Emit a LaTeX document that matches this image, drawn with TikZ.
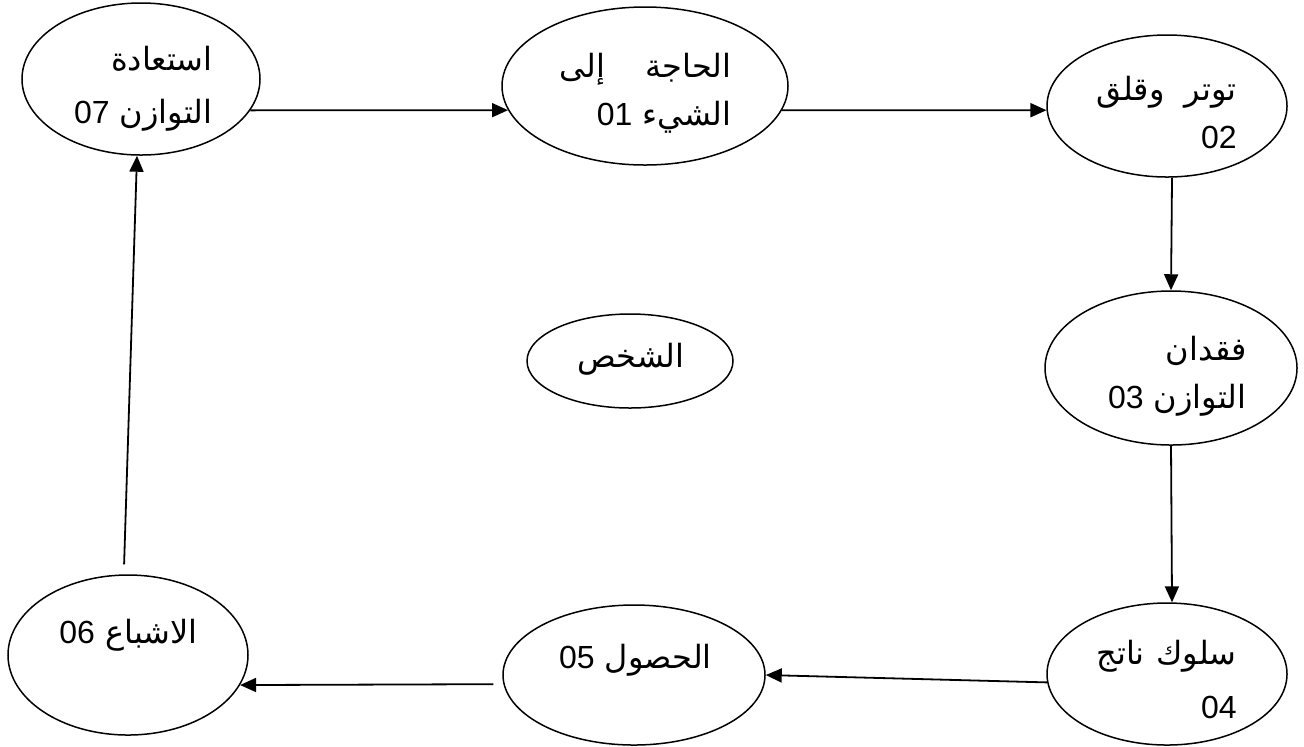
\documentclass[tikz,border=0pt]{standalone}
\usepackage{fontspec}
\TeXXeTstate=1
\newfontfamily\arabicfont[Script=Arabic]{DejaVu Sans}
\newfontfamily\numfont{Liberation Sans}
\usetikzlibrary{shapes.geometric,arrows.meta}
\newcommand{\arab}[1]{{\arabicfont\beginR #1\endR}}
\newcommand{\nbr}[1]{\beginL{\numfont #1}\endL}

\begin{document}
\begin{tikzpicture}[x=0.5pt,y=-0.5pt,
  stage/.style={ellipse,draw,line width=0.75pt,inner sep=0pt},
  lbl/.style={inner sep=0pt,font=\fontsize{16}{18}\selectfont},
  link/.style={line width=0.9pt,-{Triangle[length=8pt,width=7pt]}}]
  \useasboundingbox (0,0) rectangle (1304,746);
  % the stages of the cycle
  \node[stage,minimum width=119pt,minimum height=76pt] (e07) at (141,79) {};
  \node[stage,minimum width=143pt,minimum height=79pt] (e01) at (645,86) {};
  \node[stage,minimum width=120pt,minimum height=71pt] (e02) at (1167,106) {};
  \node[stage,minimum width=126pt,minimum height=77pt] (e03) at (1171,368) {};
  \node[stage,minimum width=120pt,minimum height=71pt] (e04) at (1167,674) {};
  \node[stage,minimum width=131pt,minimum height=70pt] (e05) at (634,675) {};
  \node[stage,minimum width=120pt,minimum height=80pt] (e06) at (128,655) {};
  \node[stage,minimum width=103pt,minimum height=47pt] (eP) at (630,361) {};
  %
  \node[lbl,anchor=base east] (t07a) at (213,70) {\arab{استعادة}};
  \node[lbl,anchor=base east] (t07b) at (213,123) {\arab{التوازن \nbr{07}}};
  \node[lbl,anchor=base east] (t01a) at (732,77)
    {\hbox to 86pt{\arabicfont\beginR الحاجة\hfil إلى\endR}};
  \node[lbl,anchor=base east] (t01b) at (732,125) {\arab{الشيء \nbr{01}}};
  \node[lbl,anchor=base east] (t02a) at (1237,100)
    {\hbox to 70pt{\arabicfont\beginR توتر\hfil وقلق\endR}};
  \node[lbl,anchor=base east] (t02b) at (1237,148) {\numfont 02};
  \node[lbl,anchor=base east] (t03a) at (1247,360) {\arab{فقدان}};
  \node[lbl,anchor=base east] (t03b) at (1247,408) {\arab{التوازن \nbr{03}}};
  \node[lbl,anchor=base east] (t04a) at (1237,664)
    {\hbox to 70pt{\arabicfont\beginR سلوك\hfil ناتج\endR}};
  \node[lbl,anchor=base east] (t04b) at (1237,718) {\numfont 04};
  \node[lbl,anchor=base east] (t05) at (712,668) {\arab{الحصول \nbr{05}}};
  \node[lbl,anchor=base east] (t06) at (198,643) {\arab{الاشباع \nbr{06}}};
  \node[lbl,anchor=base] (tP) at (631,367) {\arab{الشخص}};
  % arrows
  \draw[link] (e07.-16.5) -- (e01.190);
  \draw[link] (e01.-10) -- (e02.182);
  \draw[link] (e02.-86) -- (e03.north);
  \draw[link] (e03.south) -- (e04.86);
  \draw[link] (e04.184) -- (e05.east);
  \draw[link,shorten <=5pt] (e05.184) -- (e06.-15);
  \draw[link,shorten <=5pt] (e06.93) -- (e07.-93);
\end{tikzpicture}
\end{document}
